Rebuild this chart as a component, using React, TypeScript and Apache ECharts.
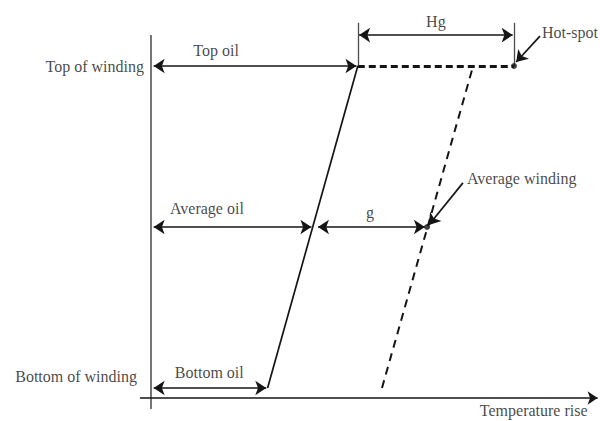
import React, { useEffect, useRef } from "react";
import * as echarts from "echarts";

// Levels along the winding height (vertical axis)
const levelNames = ["Bottom of winding", "Top of winding"];
const levelValues = [3, 100];
const averageLevel = 51.5;

// Temperature rises (horizontal axis)
const oilRise = [26.5, 47]; // bottom oil, top oil
const windingRise = [52.5, 73]; // bottom, top of winding
const averageOil = 36.75;
const averageWinding = 62.75;
const hotSpot = 82.5;

const dimensionNames = ["Top oil", "Average oil", "g", "Bottom oil", "Hg"];
const pointerNames = ["Hot-spot", "Average winding"];
const axisName = "Temperature rise";

const INK = "#151515";
const AXIS = "#4a4a4a";
const FONT = "Liberation Serif";

export default function App() {
  const ref = useRef<HTMLDivElement>(null);

  useEffect(() => {
    document.body.style.margin = "0";
    if (!ref.current) return;
    const chart = echarts.init(ref.current, undefined, { renderer: "svg" });

    const [bottomLvl, topLvl] = levelValues;
    const [oilB, oilT] = oilRise;
    const [windB, windT] = windingRise;
    const hgLevel = 109.3;
    const pointerTails = [
      [88.4, 109],
      [70.9, 64.8],
    ];

    const txt = (
      text: string,
      pos: number[],
      align: string,
      offset: number[]
    ) => ({
      value: pos,
      label: {
        show: true,
        position: "inside",
        formatter: text,
        align,
        verticalAlign: "middle",
        offset,
        color: INK,
        fontFamily: FONT,
        fontSize: 16,
      },
    });

    const option: any = {
      animation: false,
      backgroundColor: "#fff",
      grid: { left: 0, right: 0, top: 0, bottom: 0, containLabel: false },
      xAxis: { type: "value", min: -34.32, max: 102.05, show: false },
      yAxis: { type: "value", min: -6.93, max: 119.88, show: false },
      series: [
        // axes
        {
          type: "lines",
          coordinateSystem: "cartesian2d",
          symbol: ["none", "none"],
          lineStyle: { color: AXIS, width: 1.5, opacity: 1 },
          data: [{ coords: [[0, -3.3], [0, hgLevel]] }],
          silent: true,
        },
        {
          type: "lines",
          coordinateSystem: "cartesian2d",
          symbol: ["none", "arrow"],
          symbolSize: 10,
          lineStyle: { color: INK, width: 1.6, opacity: 1 },
          data: [{ coords: [[-2.5, 0], [101.5, 0]] }],
          silent: true,
        },
        // oil line (solid) and Hg extension ticks
        {
          type: "lines",
          coordinateSystem: "cartesian2d",
          symbol: ["none", "none"],
          lineStyle: { color: INK, width: 1.7, opacity: 1 },
          data: [
            { coords: [[oilB, bottomLvl], [oilT, topLvl]] },
            { coords: [[oilT, topLvl], [oilT, 113]], lineStyle: { width: 1.3, color: AXIS } },
            { coords: [[hotSpot, topLvl], [hotSpot, 113]], lineStyle: { width: 1.3, color: AXIS } },
          ],
          silent: true,
        },
        // winding line (dashed)
        {
          type: "lines",
          coordinateSystem: "cartesian2d",
          symbol: ["none", "none"],
          lineStyle: { color: INK, width: 2, type: [8, 6], opacity: 1 },
          data: [{ coords: [[windB, bottomLvl], [windT, topLvl - 1]] }],
          silent: true,
        },
        // top hot-spot dashed line
        {
          type: "lines",
          coordinateSystem: "cartesian2d",
          symbol: ["none", "none"],
          lineStyle: { color: INK, width: 2.8, type: [7, 4], opacity: 1 },
          data: [{ coords: [[oilT, topLvl], [hotSpot, topLvl]] }],
          silent: true,
        },
        // dimension arrows
        {
          type: "lines",
          coordinateSystem: "cartesian2d",
          symbol: ["arrow", "arrow"],
          symbolSize: 11,
          lineStyle: { color: INK, width: 1.7, opacity: 1 },
          data: [
            { coords: [[0.6, topLvl], [oilT - 0.3, topLvl]] },
            { coords: [[0.6, averageLevel], [averageOil - 0.3, averageLevel]] },
            { coords: [[averageOil + 1.2, averageLevel], [averageWinding - 0.5, averageLevel]] },
            { coords: [[0.6, bottomLvl], [oilB - 0.3, bottomLvl]] },
            { coords: [[oilT + 0.3, hgLevel], [hotSpot - 0.3, hgLevel]] },
          ],
          silent: true,
        },
        // pointer arrows
        {
          type: "lines",
          coordinateSystem: "cartesian2d",
          symbol: ["none", "arrow"],
          symbolSize: 11,
          lineStyle: { color: INK, width: 1.7, opacity: 1 },
          data: [
            { coords: [pointerTails[0], [hotSpot + 0.5, topLvl + 1.2]] },
            { coords: [pointerTails[1], [averageWinding + 0.4, averageLevel + 0.6]] },
          ],
          silent: true,
        },
        // points
        {
          type: "scatter",
          symbol: "circle",
          symbolSize: 6,
          itemStyle: { color: INK },
          data: [
            [hotSpot, topLvl],
            [averageWinding, averageLevel],
          ],
          silent: true,
        },
        // texts
        {
          type: "scatter",
          symbol: "circle",
          symbolSize: 1,
          silent: true,
          itemStyle: { color: "rgba(255,255,255,0)" },
          data: [
            txt(levelNames[1], [0, topLvl], "right", [-7, 0]),
            txt(levelNames[0], [0, bottomLvl], "right", [-14, -12]),
            txt(dimensionNames[0], [14.8, topLvl], "center", [0, -16]),
            txt(dimensionNames[1], [12.7, averageLevel], "center", [0, -19]),
            txt(dimensionNames[2], [(averageOil + averageWinding) / 2, averageLevel], "center", [0, -15]),
            txt(dimensionNames[3], [oilB / 2, bottomLvl], "center", [0, -16]),
            txt(dimensionNames[4], [(oilT + hotSpot) / 2, hgLevel], "center", [0, -14]),
            txt(pointerNames[0], pointerTails[0], "left", [2, -4]),
            txt(pointerNames[1], pointerTails[1], "left", [4, -4]),
            txt(axisName, [101.5, 0], "right", [-10, 13]),
          ],
        },
      ],
    };

    chart.setOption(option);
    return () => chart.dispose();
  }, []);

  return <div ref={ref} style={{ width: 600, height: 421 }} />;
}
